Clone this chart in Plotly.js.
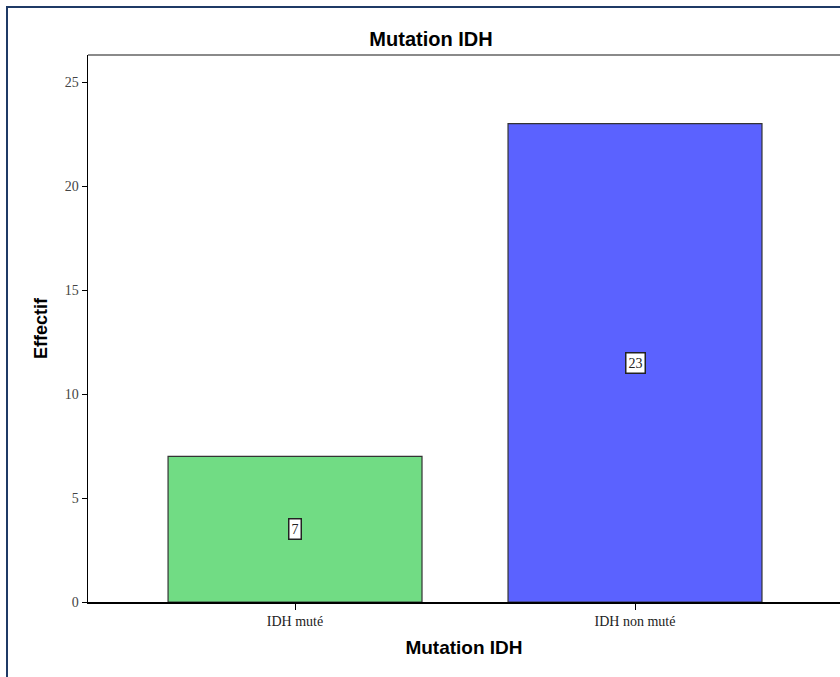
<!DOCTYPE html>
<html>
<head>
<meta charset="utf-8">
<script src="https://cdn.plot.ly/plotly-3.0.1.min.js"></script>
<style>
  html, body { margin:0; padding:0; background:#fff; width:840px; height:677px; overflow:hidden; }
  #frame { position:absolute; left:6px; top:6px; width:860px; height:700px; border-left:2px solid #1f3a66; border-top:2px solid #1f3a66; box-sizing:border-box; pointer-events:none; z-index:5; }
  #chart { position:absolute; left:0; top:0; }
</style>
</head>
<body>
<div id="chart"></div>
<div id="frame"></div>
<script>
const categories = ["IDH muté", "IDH non muté"];
const counts = [7, 23];
const barColors = ["#71dc84", "#5b62ff"];
const chartTitle = "Mutation IDH";
const xTitle = "Mutation IDH";
const yTitle = "Effectif";
const yTicks = [0, 5, 10, 15, 20, 25];

const trace = {
  type: "bar",
  x: categories,
  y: counts,
  width: 0.747,
  marker: { color: barColors, line: { color: "#333333", width: 1.2 } },
  hoverinfo: "x+y"
};

const annotations = categories.map((c, i) => ({
  x: c, y: counts[i] / 2, xref: "x", yref: "y",
  text: String(counts[i]), showarrow: false,
  bgcolor: "#ffffff", bordercolor: "#222222", borderwidth: 1.5, borderpad: 2,
  font: { family: "Liberation Serif, DejaVu Serif, serif", size: 14, color: "#222" }
}));

const layout = {
  width: 840, height: 677,
  margin: { l: 88, r: 0, t: 55, b: 75 },
  paper_bgcolor: "#ffffff", plot_bgcolor: "#ffffff",
  showlegend: false,
  title: {
    text: "<b>" + chartTitle + "</b>", x: 431 / 840, xref: "container", xanchor: "center",
    y: 1 - 38.5 / 677, yref: "container", yanchor: "middle",
    font: { family: "Liberation Sans, Arial, sans-serif", size: 20, color: "#000" }
  },
  xaxis: {
    type: "category",
    range: [-0.609, 1.603],
    showgrid: false, zeroline: false,
    showline: true, linecolor: "#000", linewidth: 1.5,
    ticks: "outside", ticklen: 6, tickcolor: "#000", tickwidth: 1,
    tickfont: { family: "Liberation Serif, DejaVu Serif, serif", size: 14, color: "#222" },
    title: { text: "<b>" + xTitle + "</b>", standoff: 12, font: { family: "Liberation Sans, Arial, sans-serif", size: 19, color: "#000" } },
    fixedrange: true
  },
  yaxis: {
    range: [0, 26.3],
    tickvals: yTicks,
    showgrid: false, zeroline: false,
    showline: true, linecolor: "#000", linewidth: 1.5,
    ticks: "outside", ticklen: 5, tickcolor: "#000", tickwidth: 1,
    tickfont: { family: "Liberation Serif, DejaVu Serif, serif", size: 14, color: "#444" },
    title: { text: "<b>" + yTitle + "</b>", standoff: 12, font: { family: "Liberation Sans, Arial, sans-serif", size: 18, color: "#000" } },
    fixedrange: true
  },
  shapes: [
    { type: "line", xref: "paper", yref: "paper", x0: 0, x1: 1.02, y0: 1, y1: 1, line: { color: "#8a8a8a", width: 2 } }
  ],
  annotations: annotations
};

Plotly.newPlot("chart", [trace], layout, { displayModeBar: false, staticPlot: true });
</script>
</body>
</html>
